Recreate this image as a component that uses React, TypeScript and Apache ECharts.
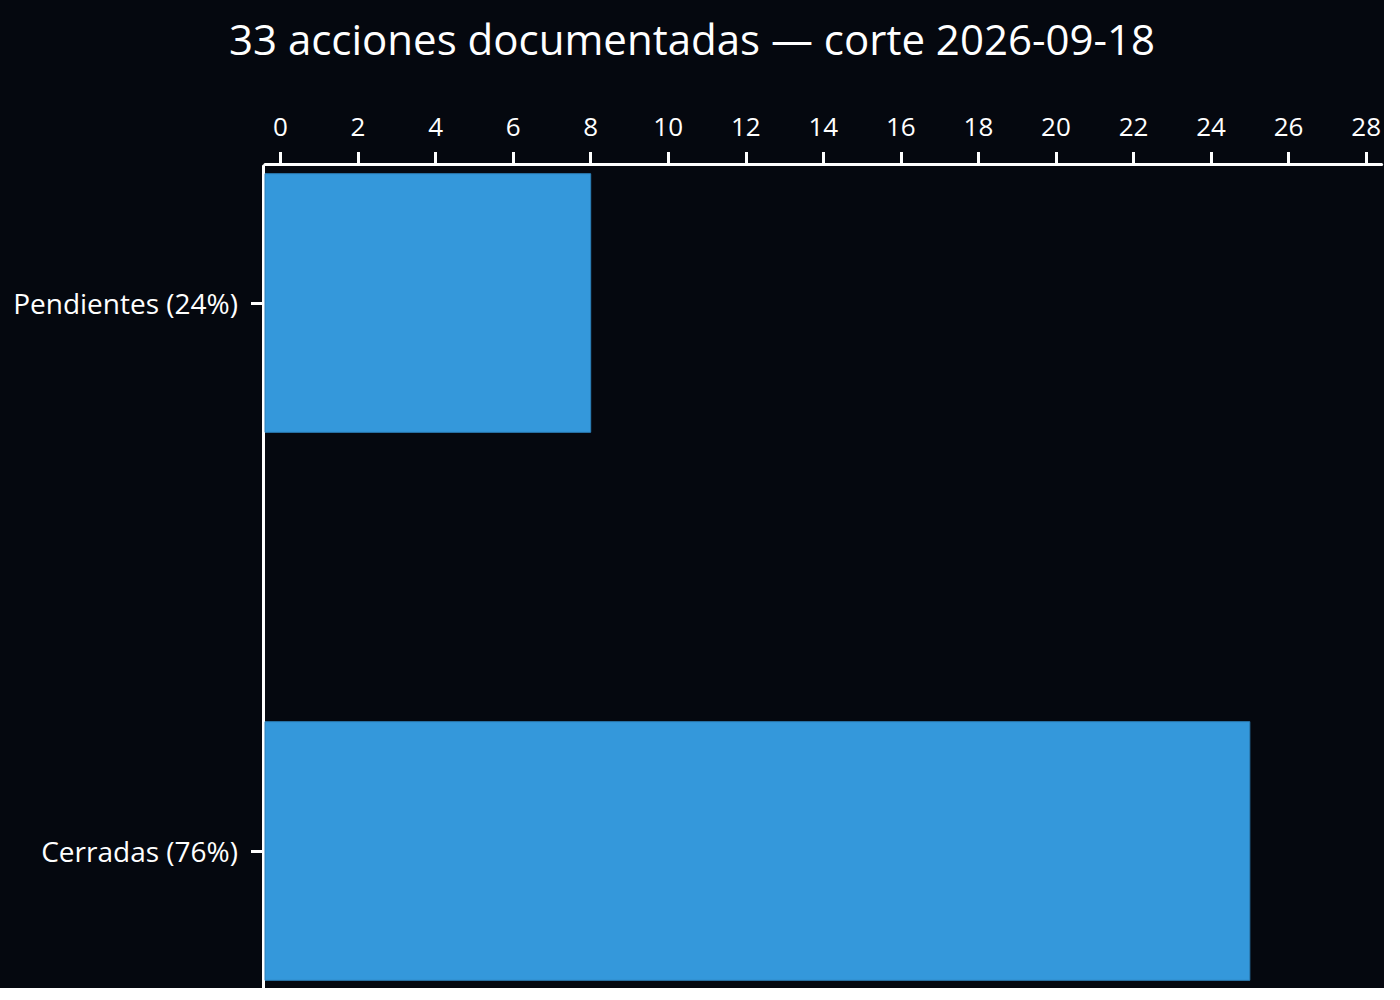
import React, { useEffect, useRef } from "react";
import * as echarts from "echarts";

const TITLE = "33 acciones documentadas — corte 2026-09-18";
const categories = ["Pendientes (24%)", "Cerradas (76%)"];
const counts = [8, 25];
const xTicks = [0, 2, 4, 6, 8, 10, 12, 14, 16, 18, 20, 22, 24, 26, 28];
const categoryTicks = [0, 1];

const X_MIN = -0.4;
const X_MAX = 28.4;
const Y_MIN = -0.25;
const Y_MAX = 1.25;
const BAR_FRACTION = 0.472;

const BG = "#05080f";
const BAR_COLOR = "#3498db";
const BAR_EDGE = "#2c7fb8";
const FG = "#ffffff";
const FONT = "'Open Sans', 'Noto Sans', sans-serif";

export default function App() {
  const ref = useRef<HTMLDivElement>(null);

  useEffect(() => {
    const chart = echarts.init(ref.current!, null, { renderer: "svg" });
    chart.setOption({
      animation: false,
      backgroundColor: BG,
      textStyle: { fontFamily: FONT, color: FG },
      title: {
        text: TITLE,
        left: "center",
        top: 12,
        textStyle: { color: FG, fontFamily: FONT, fontSize: 42, fontWeight: "normal" },
      },
      grid: { left: 265, top: 166, right: 0, bottom: 0, containLabel: false },
      xAxis: {
        type: "value",
        position: "top",
        min: X_MIN,
        max: X_MAX,
        offset: 2,
        axisLine: { show: true, onZero: false, lineStyle: { color: FG, width: 3 } },
        axisTick: { show: true, customValues: xTicks, length: 12, lineStyle: { color: FG, width: 3 } },
        axisLabel: {
          customValues: xTicks,
          color: FG,
          fontFamily: FONT,
          fontSize: 26,
          margin: 25,
          formatter: (v: number) => String(v),
        },
        splitLine: { show: false },
      },
      yAxis: {
        type: "value",
        inverse: true,
        min: Y_MIN,
        max: Y_MAX,
        offset: 2,
        axisLine: { show: true, onZero: false, lineStyle: { color: FG, width: 3 } },
        axisTick: { show: true, customValues: categoryTicks, length: 12, lineStyle: { color: FG, width: 3 } },
        axisLabel: {
          customValues: categoryTicks,
          color: FG,
          fontFamily: FONT,
          fontSize: 28,
          margin: 25,
          formatter: (v: number) => categories[Math.round(v)] ?? "",
        },
        splitLine: { show: false },
      },
      series: [
        {
          type: "custom",
          data: counts.map((v, i) => [v, i]),
          encode: { x: 0, y: 1 },
          renderItem: (params: any, api: any) => {
            const value = api.value(0);
            const idx = api.value(1);
            const end = api.coord([value, idx]);
            const h = api.size([0, BAR_FRACTION])[1];
            const x0 = params.coordSys.x;
            return {
              type: "rect",
              shape: { x: x0, y: end[1] - h / 2, width: end[0] - x0, height: h },
              style: { fill: BAR_COLOR, stroke: BAR_EDGE, lineWidth: 1 },
            };
          },
        },
      ],
    });
    return () => chart.dispose();
  }, []);

  return (
    <div
      ref={ref}
      style={{ position: "absolute", left: 0, top: 0, width: 1384, height: 988 }}
    />
  );
}
